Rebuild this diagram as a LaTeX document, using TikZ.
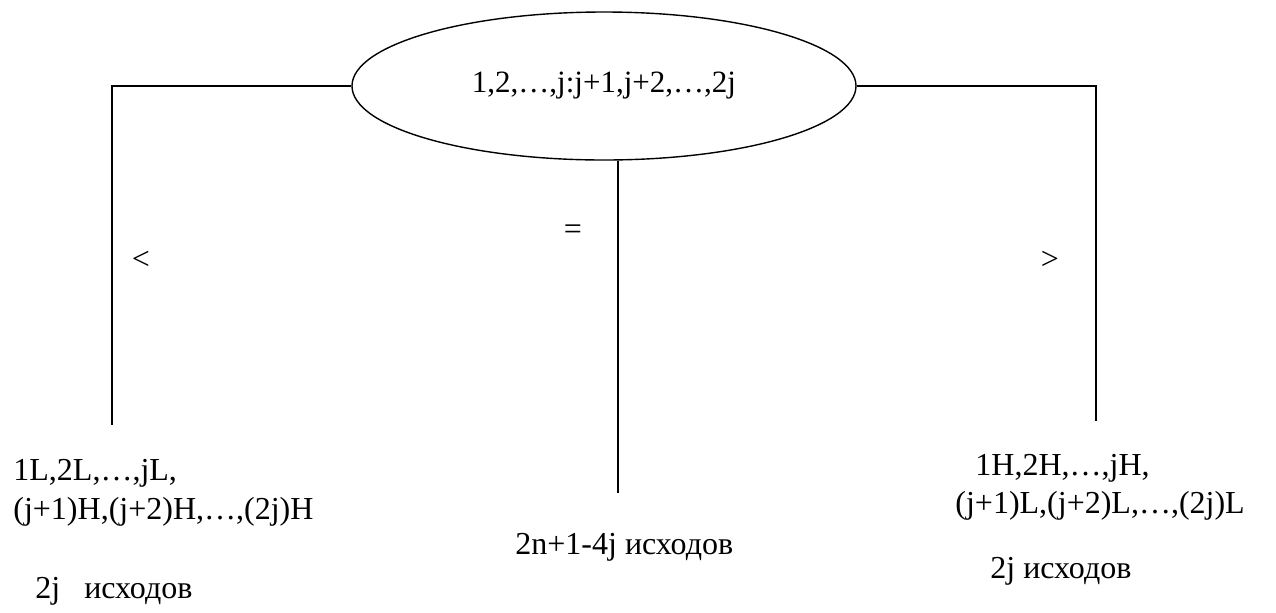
\documentclass[tikz,border=0pt]{standalone}
\usepackage{fontspec}
\setmainfont{Liberation Serif}
\usetikzlibrary{shapes.geometric}

\begin{document}
\begin{tikzpicture}[x=0.5pt,y=-0.5pt,
    wire/.style={line width=0.7pt},
    txt/.style={inner sep=0pt,anchor=base west,font=\fontsize{16}{19}\selectfont}]
  \useasboundingbox (0,0) rectangle (1276,612);
  % the weighing
  \node[draw,wire,ellipse,minimum width=252pt,minimum height=74pt,inner sep=0pt,
        font=\fontsize{15.5}{18}\selectfont] (weigh) at (604,86) {1,2,…,j:j+1,j+2,…,2j};
  % three branches
  \coordinate (lb) at (112,425);
  \coordinate (mb) at (618,493);
  \coordinate (rb) at (1096,421);
  \draw[wire] (weigh.west) -| (lb);
  \draw[wire] (weigh.east) -| (rb);
  \draw[wire] (weigh.south -| mb) -- (mb);
  \node[txt,anchor=center] (less) at (141,260) {<};
  \node[txt,anchor=center] (eq)   at (573,232) {=};
  \node[txt,anchor=center] (more) at (1050,260) {>};
  % outcomes, left
  \node[txt] (l1) at (13,480) {1L,2L,…,jL,};
  \node[txt] (l2) at (13,519) {(j+1)H,(j+2)H,…,(2j)H};
  \node[txt] (l3) at (35,598) {2j\ \ \ исходов};
  % outcomes, middle
  \node[txt] (m1) at (515,554) {2n+1-4j исходов};
  % outcomes, right
  \node[txt] (r1) at (975,475) {1H,2H,…,jH,};
  \node[txt] (r2) at (955,513) {(j+1)L,(j+2)L,…,(2j)L};
  \node[txt] (r3) at (990,578) {2j исходов};
\end{tikzpicture}
\end{document}
